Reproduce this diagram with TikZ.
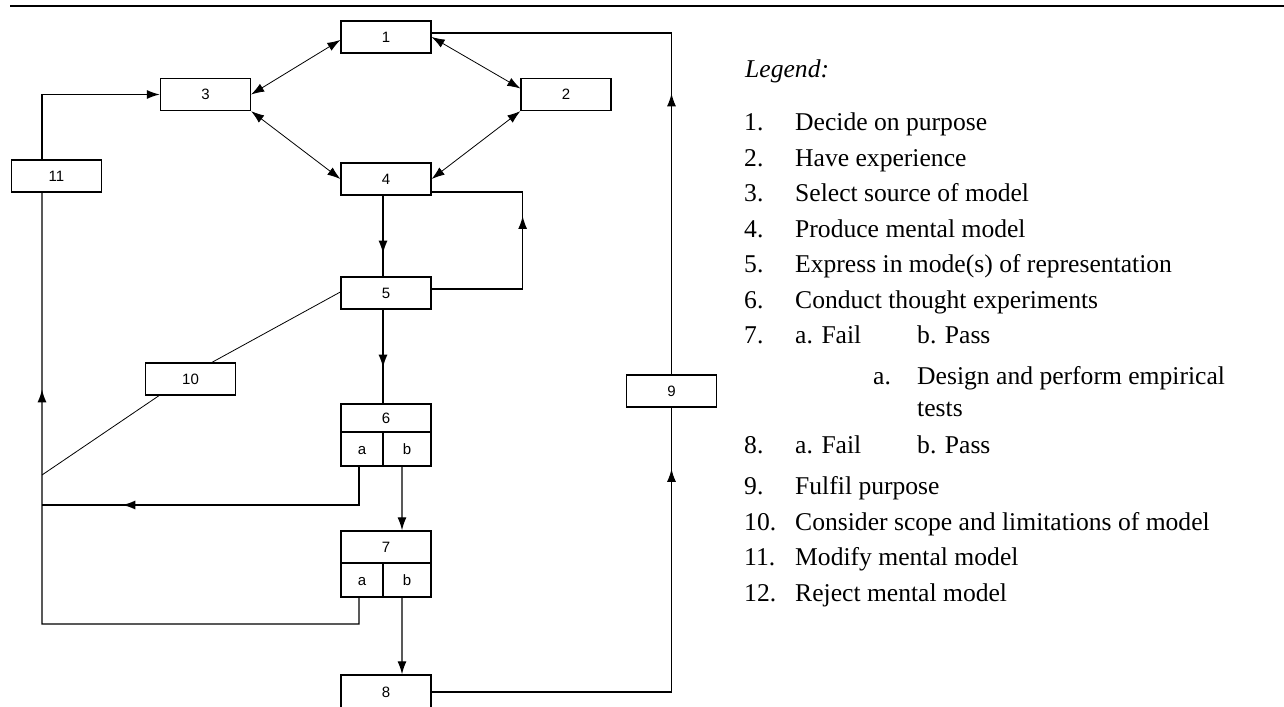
\documentclass[tikz,border=0pt]{standalone}
\usepackage{fontspec}
\setmainfont{Liberation Serif}
\newfontfamily\boxfont{Liberation Sans}
\usetikzlibrary{arrows.meta,decorations.markings}

\tikzset{
  box/.style={draw, line width=1.3bp, minimum width=90bp, minimum height=32bp, inner sep=0pt,
    text height=10.7bp, text depth=0bp, font=\boxfont\fontsize{15bp}{18bp}\selectfont},
  cell/.style={box, minimum width=#1, minimum height=34bp},
  link/.style={line width=1.3bp},
  thinlink/.style={line width=0.8bp},
  midarrow/.style={postaction={decorate,decoration={markings,mark=at position #1 with {\arrow{>}}}}},
  legend/.style={anchor=base west, inner sep=0pt, font=\fontsize{25.6bp}{30bp}\selectfont},
}

\begin{document}
\begin{tikzpicture}[>={Latex[length=13bp,width=9bp]},line join=miter]
  \useasboundingbox (0bp,0bp) rectangle (1284bp,707bp);
  \draw [line width=2.3bp] (10bp,701bp) -- (1284bp,701bp);
%%
  % Node: 1
  \node[box] (n1) at (386bp,670bp) {1};
  % Node: 2
  \node[box] (n2) at (566bp,612.5bp) {2};
  % Node: 3
  \node[box] (n3) at (205.5bp,612.5bp) {3};
  % Node: 4
  \node[box] (n4) at (386bp,528bp) {4};
  % Node: 5
  \node[box] (n5) at (386bp,414bp) {5};
  % Node: 6
  \node[box, minimum height=28bp] (n6) at (386bp,289bp) {6};
  \node[cell=42bp] (n6a) at (362bp,258bp) {a};
  \node[cell=48bp] (n6b) at (407bp,258bp) {b};
  % Node: 7
  \node[box] (n7) at (386bp,160bp) {7};
  \node[cell=42bp] (n7a) at (362bp,127bp) {a};
  \node[cell=48bp] (n7b) at (407bp,127bp) {b};
  % Node: 8
  \node[box, minimum height=34bp] (n8) at (386bp,15bp) {8};
  % Node: 9
  \node[box] (n9) at (671.5bp,316bp) {9};
  % Node: 10
  \node[box] (n10) at (190.5bp,328bp) {10};
  % Node: 11
  \node[box] (n11) at (56.5bp,531bp) {11};
  \coordinate (j10) at (42bp,232bp);
  \coordinate (j6) at (42bp,202bp);
  \coordinate (c7) at (42bp,83bp);
%%
  % Edge: 1 <-> 3
  \draw [thinlink,<->] ([yshift=-3bp]n1.west) -- (n3.east);
  % Edge: 3 <-> 4
  \draw [thinlink,<->] (n3.south east) -- (n4.west);
  % Edge: 1 <-> 2
  \draw [thinlink,<->] (n1.east) -- ([yshift=6bp]n2.west);
  % Edge: 2 <-> 4
  \draw [thinlink,<->] (n2.south west) -- (n4.east);
  % Edge: 4 -> 5
  \draw [link,midarrow=58bp] ([xshift=-3bp]n4.south) -- ([xshift=-3bp]n5.north);
  % Edge: 5 -> 6
  \draw [link,midarrow=58bp] ([xshift=-3bp]n5.south) -- ([xshift=-3bp]n6.north);
  % Edge: 5 -> 4
  \draw [link,midarrow=164bp] ([yshift=4bp]n5.east) -| ([xshift=91bp,yshift=-13bp]n4.east) -- ([yshift=-13bp]n4.east);
  % Edge: 5 -- 10
  \draw [thinlink] ([yshift=1bp]n5.west) -- ([xshift=21.5bp]n10.north);
  % Edge: 10 -- 11
  \draw [thinlink] ([xshift=-31.5bp]n10.south) -- (j10);
  % Edge: 6a -> 11
  \draw [link,midarrow=275bp] ([xshift=-3bp]n6a.south) |- (j6);
  % Edge: 6b -> 7
  \draw [link,->] ([xshift=-5bp]n6b.south) -- ([xshift=16bp]n7.north);
  % Edge: 7a -> 11
  \draw [link,midarrow=578bp] ([xshift=-3bp]n7a.south) |- (c7) -- ([xshift=-14.5bp]n11.south);
  % Edge: 7b -> 8
  \draw [link,->] ([xshift=-5bp]n7b.south) -- ([xshift=16bp]n8.north);
  % Edge: 11 -> 3
  \draw [link,->] ([xshift=-14.5bp]n11.north) |- (n3.west);
  % Edge: 8 -> 9
  \draw [link,midarrow=463bp] (n8.east) -| (n9.south);
  % Edge: 9 -> 1
  \draw [link,midarrow=281bp] (n9.north) |- ([yshift=4bp]n1.east);
%%
  % Legend
  \node[legend] (lgd) at (745bp,629bp) {\itshape Legend:};
  \node[legend] (l1n) at (744bp,576bp) {1.};
  \node[legend] (l1) at (795bp,576bp) {Decide on purpose};
  \node[legend] (l2n) at (744bp,540.5bp) {2.};
  \node[legend] (l2) at (795bp,540.5bp) {Have experience};
  \node[legend] (l3n) at (744bp,505bp) {3.};
  \node[legend] (l3) at (795bp,505bp) {Select source of model};
  \node[legend] (l4n) at (744bp,469.5bp) {4.};
  \node[legend] (l4) at (795bp,469.5bp) {Produce mental model};
  \node[legend] (l5n) at (744bp,434bp) {5.};
  \node[legend] (l5) at (795bp,434bp) {Express in mode(s) of representation};
  \node[legend] (l6n) at (744bp,398.5bp) {6.};
  \node[legend] (l6) at (795bp,398.5bp) {Conduct thought experiments};
  \node[legend] (l7n) at (744bp,363bp) {7.};
  \node[legend] (l7a) at (795bp,363bp) {a. Fail};
  \node[legend] (l7b) at (917bp,363bp) {b. Pass};
  \node[legend] (l7sn) at (873bp,322bp) {a.};
  \node[legend] (l7s) at (917bp,322bp) {Design and perform empirical};
  \node[legend] (l7t) at (917bp,290bp) {tests};
  \node[legend] (l8n) at (744bp,253bp) {8.};
  \node[legend] (l8a) at (795bp,253bp) {a. Fail};
  \node[legend] (l8b) at (917bp,253bp) {b. Pass};
  \node[legend] (l9n) at (744bp,212bp) {9.};
  \node[legend] (l9) at (795bp,212bp) {Fulfil purpose};
  \node[legend] (l10n) at (744bp,176.5bp) {10.};
  \node[legend] (l10) at (795bp,176.5bp) {Consider scope and limitations of model};
  \node[legend] (l11n) at (744bp,141bp) {11.};
  \node[legend] (l11) at (795bp,141bp) {Modify mental model};
  \node[legend] (l12n) at (744bp,105.5bp) {12.};
  \node[legend] (l12) at (795bp,105.5bp) {Reject mental model};
%
\end{tikzpicture}
\end{document}
